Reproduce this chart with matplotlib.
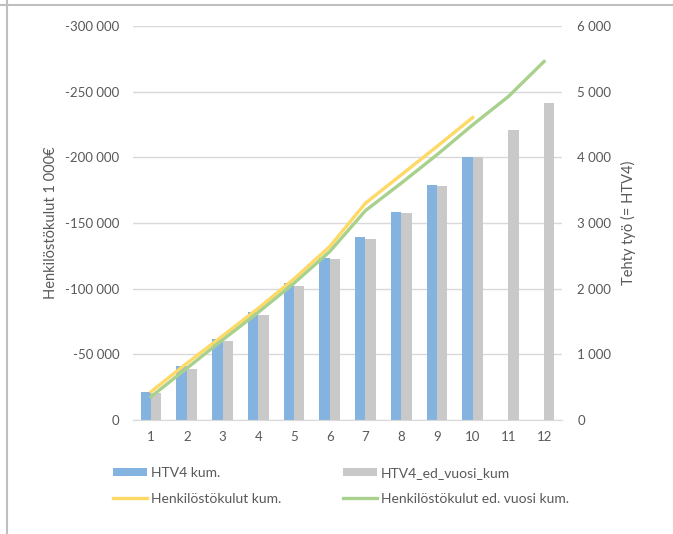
import numpy as np
import matplotlib.pyplot as plt
from matplotlib.lines import Line2D
from matplotlib.ticker import FuncFormatter

plt.rcParams['font.family'] = ['Lato', 'DejaVu Sans']

months = np.arange(1, 13)
htv4_kum = [432, 823, 1240, 1640, 2083, 2475, 2785, 3176, 3585, 4005, np.nan, np.nan]
htv4_ed_vuosi_kum = [406, 777, 1199, 1606, 2048, 2454, 2764, 3160, 3570, 4000, 4421, 4837]
kulut_kum = [-21600, -43200, -64000, -85100, -107500, -132100, -165200, -186700, -208300,
             -230400, np.nan, np.nan]
kulut_ed_vuosi_kum = [-17800, -39400, -61000, -82000, -104200, -128300, -159500, -180400,
                      -202000, -224800, -246400, -273100]

txt = '#595959'
grid_c = '#d9d9d9'


def fmt_space(v, pos):
    s = '{:,.0f}'.format(v).replace(',', ' ')
    return s


fig = plt.figure(figsize=(6.73, 5.34), dpi=100)
ax1 = fig.add_axes([0.198, 0.2135, 0.637, 0.7375])
ax2 = ax1.twinx()
ax1.set_zorder(ax2.get_zorder() + 1)
ax1.patch.set_visible(False)

w = 0.29
b1 = ax2.bar(months - w, htv4_kum, width=w, align='edge', color='#85b3e0', label='HTV4 kum.')
b2 = ax2.bar(months, htv4_ed_vuosi_kum, width=w, align='edge', color='#c9c9c9',
             label='HTV4_ed_vuosi_kum')
l1, = ax1.plot(months, kulut_kum, color='#ffd966', lw=2.4, label='Henkilöstökulut kum.')
l2, = ax1.plot(months, kulut_ed_vuosi_kum, color='#a9d18e', lw=2.4,
               label='Henkilöstökulut ed. vuosi kum.')

ax1.set_xlim(0.5, 12.5)
ax1.set_ylim(0, -300000)
ax1.set_yticks(np.arange(0, -300001, -50000))
ax2.set_ylim(0, 6000)
ax2.set_yticks(np.arange(0, 6001, 1000))
ax1.set_xticks(months)
ax1.yaxis.set_major_formatter(FuncFormatter(fmt_space))
ax2.yaxis.set_major_formatter(FuncFormatter(fmt_space))

ax2.grid(axis='y', color=grid_c, lw=1)
ax2.set_axisbelow(True)
for ax in (ax1, ax2):
    for s in ax.spines.values():
        s.set_visible(False)
ax1.spines['bottom'].set_visible(True)
ax1.spines['bottom'].set_color(grid_c)

ax1.tick_params(axis='y', length=0, pad=10, labelsize=9.5, labelcolor=txt)
ax1.tick_params(axis='x', length=0, pad=8, labelsize=9.5, labelcolor=txt)
ax2.tick_params(axis='y', length=0, pad=11, labelsize=9.5, labelcolor=txt)

ax1.set_ylabel('Henkilöstökulut 1 000€', fontsize=10.5, color=txt, labelpad=5)
ax2.set_ylabel('Tehty työ (= HTV4)', fontsize=10.5, color=txt, labelpad=7)

fig.legend([b1, l1, b2, l2],
           ['HTV4 kum.', 'Henkilöstökulut kum.', 'HTV4_ed_vuosi_kum',
            'Henkilöstökulut ed. vuosi kum.'],
           ncol=2, loc='upper left', bbox_to_anchor=(0.16, 0.136), frameon=False,
           fontsize=10, labelcolor=txt, handlelength=2.4, handleheight=0.6,
           handletextpad=0.3, columnspacing=4.5, labelspacing=1.0, borderaxespad=0)

# chart border fragments
fig.add_artist(Line2D([0, 1], [0.99, 0.99], color='#bfbfbf', lw=1.5, transform=fig.transFigure))
fig.add_artist(Line2D([0.011, 0.011], [0, 1], color='#bfbfbf', lw=1.5, transform=fig.transFigure))

fig.savefig('out.png', dpi=100)
